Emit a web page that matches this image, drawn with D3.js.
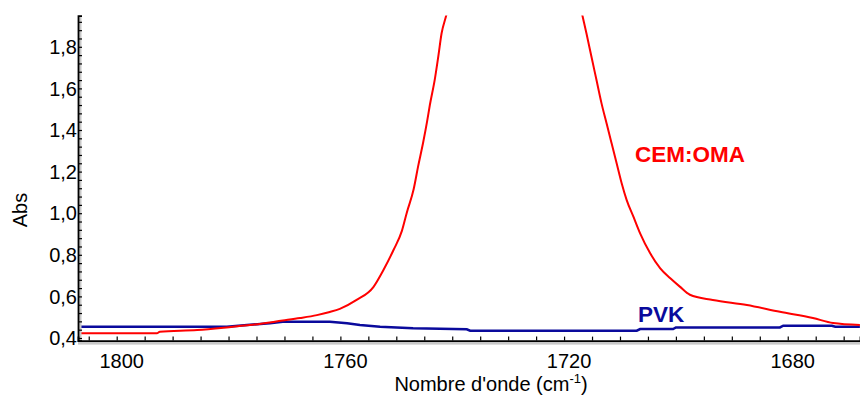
<!DOCTYPE html>
<html>
<head>
<meta charset="utf-8">
<script src="https://cdn.jsdelivr.net/npm/d3@7"></script>
<style>
  body { margin: 0; background: #fff; }
  text { font-family: "Liberation Sans", Arial, sans-serif; }
</style>
</head>
<body>
<svg id="svg_ir" width="860" height="398"></svg>
<script>
// IR spectrum, carbonyl region

// wavenumbers (cm-1) and absorbance
var cemWave = [1806.9, 1792.8, 1792.3, 1785.6, 1779.2, 1776.2, 1770.3, 1767.2, 1764.2, 1761.9,
               1760.1, 1757.1, 1754.1, 1752.3, 1750.5, 1749.0, 1748.1, 1746.9, 1746.1, 1745.2,
               1744.5, 1744.0, 1743.1, 1742.5, 1741.9, 1741.1, 1729.0,
               1716.7, 1716.0, 1715.1, 1714.2, 1713.3, 1712.4, 1711.5, 1710.6, 1709.7, 1708.8,
               1707.6, 1706.4, 1704.6, 1702.8, 1701.0, 1699.3, 1697.5, 1693.4, 1687.3, 1681.4,
               1675.5, 1671.9, 1667.1];
var cemAbs  = [0.423, 0.423, 0.430, 0.438, 0.454, 0.462, 0.484, 0.496, 0.510, 0.525,
               0.540, 0.583, 0.645, 0.727, 0.823, 0.915, 1.005, 1.115, 1.225, 1.340,
               1.440, 1.520, 1.646, 1.752, 1.865, 1.948, 3.6,
               1.948, 1.865, 1.752, 1.640, 1.528, 1.432, 1.336, 1.240, 1.144, 1.063,
               0.983, 0.903, 0.807, 0.735, 0.687, 0.647, 0.608, 0.583, 0.559, 0.526,
               0.496, 0.472, 0.4625];

var pvkWave = [1806.9, 1780.3, 1776.7, 1772.6, 1770.3, 1761.9, 1758.8, 1756.5, 1752.9, 1747.0,
               1737.4, 1736.8, 1707.0, 1706.4, 1700.5, 1700.0, 1681.4, 1680.8, 1672.1, 1671.5,
               1667.1];
var pvkAbs  = [0.454, 0.454, 0.4625, 0.471, 0.478, 0.478, 0.471, 0.4625, 0.454, 0.447,
               0.442, 0.435, 0.435, 0.443, 0.443, 0.451, 0.451, 0.459, 0.459, 0.454,
               0.454];

var xTicks = [1800, 1760, 1720, 1680];
var yTicks = [0.4, 0.6, 0.8, 1.0, 1.2, 1.4, 1.6, 1.8];

var svg = d3.select("#svg_ir"),
    margin = {top: 15.6, right: 0, bottom: 57.4, left: 78},
    width = +svg.attr("width") - margin.left - margin.right,
    height = +svg.attr("height") - margin.top - margin.bottom,
    g = svg.append("g").attr("transform", "translate(" + margin.left + "," + margin.top + ")");

// reversed wavenumber axis
var x = d3.scaleLinear()
    .domain([1806.92, 1667.08])
    .range([0, width]);

var y = d3.scaleLinear()
    .domain([0.3875, 1.95])
    .range([height, 0]);

svg.append("clipPath")
    .attr("id", "clip")
  .append("rect")
    .attr("width", width)
    .attr("height", height);

var line = d3.line()
    .x(function(d) { return x(d[0]); })
    .y(function(d) { return y(d[1]); });

var smooth = d3.line()
    .curve(d3.curveMonotoneX)
    .x(function(d) { return x(d[0]); })
    .y(function(d) { return y(d[1]); });

var cemData = cemWave.map(function(w, i) { return [w, cemAbs[i]]; });
var pvkData = pvkWave.map(function(w, i) { return [w, pvkAbs[i]]; });

var plot = g.append("g").attr("clip-path", "url(#clip)");

plot.append("path")
    .datum(pvkData)
    .attr("fill", "none")
    .attr("stroke", "#0a0a9c")
    .attr("stroke-width", 2.5)
    .attr("d", line);

plot.append("path")
    .datum(cemData)
    .attr("fill", "none")
    .attr("stroke", "#ff0000")
    .attr("stroke-width", 2)
    .attr("d", smooth);

// axis shadows
g.append("rect")
    .attr("x", 1).attr("y", 0)
    .attr("width", 2.5).attr("height", height + 1)
    .attr("fill", "#c8c8c8");
g.append("rect")
    .attr("x", 0).attr("y", height + 1)
    .attr("width", width).attr("height", 3)
    .attr("fill", "#c8c8c8");

var fmt = function(d) { return d3.format(".1f")(d).replace(".", ","); };

// X axis
var xAxis = g.append("g")
    .attr("transform", "translate(0," + height + ")")
    .call(d3.axisBottom(x).tickValues(d3.range(1805, 1665, -5)).tickSize(-4).tickFormat(""));

xAxis.append("g")
  .selectAll("text")
  .data(xTicks)
  .enter().append("text")
    .attr("x", function(d) { return x(d) + 5; })
    .attr("y", 27.5)
    .attr("fill", "#000")
    .attr("text-anchor", "middle")
    .attr("font-size", "20px")
    .text(function(d) { return d; });

// Y axis
var yAxis = g.append("g")
    .call(d3.axisLeft(y).tickValues(d3.range(0.4, 1.95, 0.04)).tickSize(-4).tickFormat(""));

yAxis.append("g")
  .selectAll("text")
  .data(yTicks)
  .enter().append("text")
    .attr("x", -1)
    .attr("y", function(d) { return y(d); })
    .attr("dy", "0.36em")
    .attr("fill", "#000")
    .attr("text-anchor", "end")
    .attr("font-size", "20px")
    .text(fmt);

svg.selectAll(".domain").attr("stroke", "#000").attr("stroke-width", 1.8);
svg.selectAll(".tick line").attr("stroke", "#000").attr("stroke-width", 1.2);

// axis titles
svg.append("text")
    .attr("transform", "translate(27,210) rotate(-90)")
    .attr("text-anchor", "middle")
    .attr("font-size", "20px")
    .text("Abs");

var xt = svg.append("text")
    .attr("x", 491)
    .attr("y", 391)
    .attr("text-anchor", "middle")
    .attr("font-size", "20px");
xt.append("tspan").text("Nombre d'onde (cm");
xt.append("tspan").attr("font-size", "13px").attr("dy", -8).text("-1");
xt.append("tspan").attr("dy", 8).text(")");

// series labels
svg.append("text")
    .attr("x", 635)
    .attr("y", 161.5)
    .attr("fill", "#ff0000")
    .attr("font-weight", "bold")
    .attr("font-size", "22.5px")
    .text("CEM:OMA");

svg.append("text")
    .attr("x", 638)
    .attr("y", 321.5)
    .attr("fill", "#0a0a9c")
    .attr("font-weight", "bold")
    .attr("font-size", "22.5px")
    .text("PVK");
</script>
</body>
</html>
